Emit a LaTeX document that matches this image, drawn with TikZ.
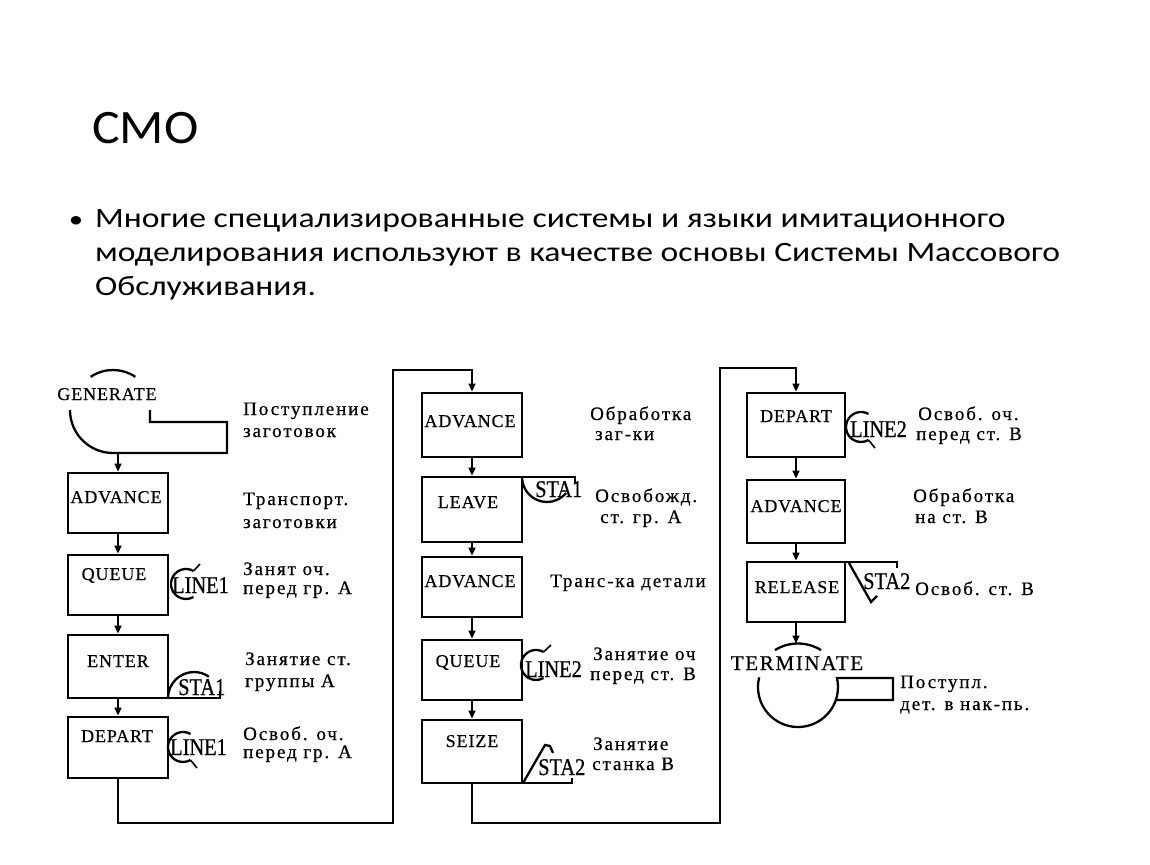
\documentclass[tikz,border=0pt]{standalone}
\usepackage{fontspec}
\setmainfont{Carlito}
\newfontfamily\titlefont[FakeStretch=1.08]{Carlito}
\newfontfamily\bodyfont[FakeStretch=1.2]{Carlito}
\newfontfamily\blkfont[LetterSpace=5,FakeBold=0.6]{Liberation Serif}
\newfontfamily\termfont[LetterSpace=8,FakeBold=0.6]{Liberation Serif}
\newfontfamily\lblfont[LetterSpace=10,FakeBold=0.6]{Liberation Serif}
\newfontfamily\symfont[FakeStretch=0.85,FakeBold=0.6]{Liberation Serif}
\usetikzlibrary{arrows.meta}
\begin{document}
\begin{tikzpicture}[x=1pt,y=1pt,
  box/.style={draw, line width=2.8pt, minimum width=100pt, inner sep=0pt},
  btext/.style={font=\blkfont\fontsize{18}{18}\selectfont, inner sep=0pt, anchor=base},
  lbl/.style={font=\lblfont\fontsize{19}{19}\selectfont, inner sep=0pt, anchor=base west},
  stxt/.style={font=\symfont\fontsize{24}{24}\selectfont, inner sep=0pt, anchor=base west},
  body/.style={font=\bodyfont\fontsize{28}{28}\selectfont, anchor=base west, inner sep=0pt},
  conn/.style={line width=1.6pt},
  arr/.style={line width=1.6pt, -{Triangle[length=8pt,width=7pt]}},
  sym/.style={line width=2.3pt},
]
\fill[white] (0,0) rectangle (1150,-864);
\useasboundingbox (0,0) rectangle (1150,-864);

% title and bullet text
\node[font=\titlefont\fontsize{48}{48}\selectfont, anchor=base west, inner sep=0pt] (title) at (92,-143) {СМО};
\node[font=\bodyfont\fontsize{24}{24}\selectfont, anchor=base, inner sep=0pt] (bul) at (76,-227) {•};
\node[body] (t1) at (95,-227) {Многие специализированные системы и языки имитационного};
\node[body] (t2) at (95,-261) {моделирования используют в качестве основы Системы Массового};
\node[body] (t3) at (95,-295) {Обслуживания.};

% ---------- left column ----------
\node[btext] (gen) at (107,-400) {GENERATE};
\draw[sym] (135.37,-376.84) arc[start angle=56,end angle=124,radius=40];
\draw[sym] (70,-410) arc[start angle=180,end angle=270,radius=43] -- (227,-453) -- (227,-422) -- (150,-422) -- (150,-410);
\coordinate (genb) at (118,-453);

\node[box, minimum height=60pt] (adv1) at (118,-503) {};
\node[btext] (adv1t) at (116,-503) {ADVANCE};
\node[box, minimum height=60pt] (que1) at (118,-585) {};
\node[btext] (que1t) at (114,-580) {QUEUE};
\node[box, minimum height=63pt] (ent1) at (118,-666.5) {};
\node[btext] (ent1t) at (118,-667) {ENTER};
\node[box, minimum height=61pt] (dep1) at (118,-747.5) {};
\node[btext] (dep1t) at (117,-742) {DEPART};

\draw[arr] (genb) -- (adv1.north);
\draw[arr] (adv1.south) -- (que1.north);
\draw[arr] (que1.south) -- (ent1.north);
\draw[arr] (ent1.south) -- (dep1.north);

% LINE1 at QUEUE
\draw[sym] (193.5,-571) arc[start angle=60,end angle=300,radius=15];
\draw[conn] (193.5,-571) -- (200,-564);
\node[stxt] (l1a) at (172,-593) {LINE1};
% STA1 at ENTER
\draw[sym] (168,-698) -- (220,-698) -- (220,-691);
\draw[sym] (168,-698) arc[start angle=180,end angle=55,radius=26];
\node[stxt] (s1a) at (178,-695) {STA1};
% LINE1 at DEPART
\draw[sym] (190.5,-734) arc[start angle=60,end angle=300,radius=15];
\draw[conn] (190.5,-760) -- (197,-768);
\node[stxt] (l1b) at (170,-755) {LINE1};

\node[lbl] (p1a) at (243,-415) {Поступление};
\node[lbl] (p1b) at (243,-437) {заготовок};
\node[lbl] (p2a) at (243,-505) {Транспорт.};
\node[lbl] (p2b) at (243,-528) {заготовки};
\node[lbl] (p3a) at (243,-575) {Занят оч.};
\node[lbl] (p3b) at (243,-594) {перед гр. А};
\node[lbl] (p4a) at (245,-665) {Занятие ст.};
\node[lbl] (p4b) at (245,-687) {группы А};
\node[lbl] (p5a) at (243,-740) {Освоб. оч.};
\node[lbl] (p5b) at (243,-758) {перед гр. А};

% ---------- connector to middle ----------
\coordinate (c1) at (118,-823);
\coordinate (c2) at (393,-823);
\coordinate (c3) at (393,-370);
\coordinate (c4) at (472,-370);

% ---------- middle column ----------
\node[box, minimum height=64pt] (adv2) at (472,-425) {};
\node[btext] (adv2t) at (470,-427) {ADVANCE};
\node[box, minimum height=65pt] (lea2) at (472,-509.5) {};
\node[btext] (lea2t) at (468,-508) {LEAVE};
\node[box, minimum height=60pt] (adv3) at (472,-587) {};
\node[btext] (adv3t) at (470,-587) {ADVANCE};
\node[box, minimum height=60pt] (que2) at (472,-670) {};
\node[btext] (que2t) at (468,-667) {QUEUE};
\node[box, minimum height=63pt] (sei2) at (472,-751.5) {};
\node[btext] (sei2t) at (472,-747) {SEIZE};

\draw[arr] (dep1.south) -- (c1) -- (c2) -- (c3) -- (c4) -- (adv2.north);
\draw[arr] (adv2.south) -- (lea2.north);
\draw[arr] (lea2.south) -- (adv3.north);
\draw[arr] (adv3.south) -- (que2.north);
\draw[arr] (que2.south) -- (sei2.north);

% STA1 at LEAVE
\draw[sym] (522,-477) -- (575,-477) -- (575,-484);
\draw[sym] (522,-477) arc[start angle=180,end angle=320,radius=25];
\node[stxt] (s1b) at (535,-497) {STA1};
% LINE2 at QUEUE
\draw[sym] (543.5,-652) arc[start angle=60,end angle=300,radius=15];
\draw[conn] (543.5,-652) -- (551,-645);
\node[stxt] (l2a) at (525,-677) {LINE2};
% STA2 at SEIZE
\draw[sym] (522,-783) -- (572,-783) -- (572,-778);
\draw[sym] (523,-783) -- (545,-745) -- (550,-746) -- (553,-753);
\node[stxt] (s2a) at (538,-775) {STA2};

\node[lbl] (m1a) at (590,-420) {Обработка};
\node[lbl] (m1b) at (595,-440) {заг-ки};
\node[lbl] (m2a) at (595,-502) {Освобожд.};
\node[lbl] (m2b) at (600,-523) {ст. гр. А};
\node[lbl] (m3a) at (550,-587) {Транс-ка детали};
\node[lbl] (m4a) at (593,-660) {Занятие оч};
\node[lbl] (m4b) at (590,-680) {перед ст. В};
\node[lbl] (m5a) at (593,-750) {Занятие};
\node[lbl] (m5b) at (592,-770) {станка В};

% ---------- connector to right ----------
\coordinate (d1) at (472,-823);
\coordinate (d2) at (720,-823);
\coordinate (d3) at (720,-368);
\coordinate (d4) at (796,-368);

% ---------- right column ----------
\node[box, minimum width=98pt, minimum height=64pt] (dep3) at (796,-425) {};
\node[btext] (dep3t) at (796,-422) {DEPART};
\node[box, minimum width=98pt, minimum height=63pt] (adv4) at (796,-511.5) {};
\node[btext] (adv4t) at (796,-512) {ADVANCE};
\node[box, minimum width=98pt, minimum height=60pt] (rel3) at (796,-592) {};
\node[btext] (rel3t) at (797,-593) {RELEASE};

\draw[arr] (sei2.south) -- (d1) -- (d2) -- (d3) -- (d4) -- (dep3.north);
\draw[arr] (dep3.south) -- (adv4.north);
\draw[arr] (adv4.south) -- (rel3.north);

% LINE2 at DEPART
\draw[sym] (868.5,-414) arc[start angle=60,end angle=300,radius=15];
\draw[conn] (868.5,-440) -- (875,-448);
\node[stxt] (l2b) at (850,-437) {LINE2};
% STA2 at RELEASE
\draw[sym] (845,-562) -- (897,-562) -- (897,-568);
\draw[sym] (849,-563) -- (871,-602) -- (877,-596);
\node[stxt] (s2b) at (863,-589) {STA2};

% TERMINATE
\node[font=\termfont\fontsize{21}{21}\selectfont, inner sep=0pt, anchor=base] (term) at (797,-670) {TERMINATE};
\draw[sym] (821.05,-650.11) arc[start angle=58,end angle=122,radius=43.5];
\draw[sym] (759.19,-677.32) arc[start angle=166,end angle=373,radius=40] -- (893,-678) -- (893,-700) -- (835.8,-700);
\coordinate (termtop) at (796,-643.5);
\draw[arr] (rel3.south) -- (termtop);

\node[lbl] (r1a) at (918,-420) {Освоб. оч.};
\node[lbl] (r1b) at (916,-440) {перед ст. В};
\node[lbl] (r2a) at (913,-502) {Обработка};
\node[lbl] (r2b) at (915,-523) {на ст. В};
\node[lbl] (r3a) at (915,-595) {Освоб. ст. В};
\node[lbl] (r4a) at (900,-688) {Поступл.};
\node[lbl] (r4b) at (900,-710) {дет. в нак-пь.};
\end{tikzpicture}
\end{document}
